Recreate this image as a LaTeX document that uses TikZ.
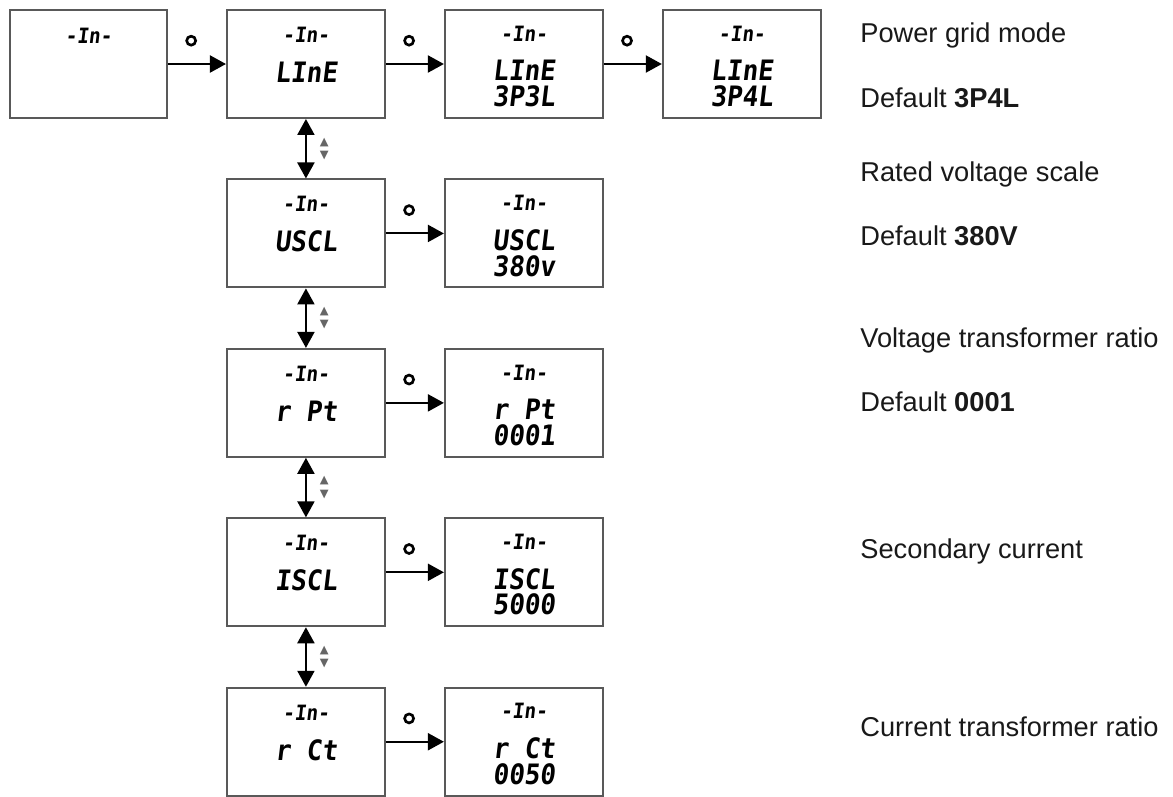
\documentclass[tikz,border=0pt]{standalone}
\usepackage{fontspec}
\setmainfont{Liberation Sans}
\newfontfamily\lcdfont[FakeSlant=0.12,FakeStretch=0.92]{DejaVu Sans Mono}
\newfontfamily\symfont{DejaVu Sans}
\usetikzlibrary{arrows.meta,positioning}

% three display rows of the meter
\newcommand{\lcd}[3]{{\fontsize{12}{16}\selectfont\rule{0pt}{16pt}#1\strut}\\[5pt] #2\strut\\[-3pt] #3\strut}

\begin{document}
\begin{tikzpicture}[
  node distance=1.19cm and 1.16cm,
  box/.style={draw=black!65, line width=1.1pt, minimum width=3.16cm, minimum height=2.16cm, align=center, inner sep=0pt, font=\lcdfont\bfseries\fontsize{16}{16}\selectfont},
  arr/.style={-{Triangle[length=3.2mm,width=3.4mm]}, line width=1.2pt},
  dbl/.style={{Triangle[length=3.2mm,width=3.4mm]}-{Triangle[length=3.2mm,width=3.4mm]}, line width=1.2pt},
  key/.style={circle, draw, line width=1.5pt, inner sep=0pt, minimum size=1.8mm},
  updn/.style={font=\symfont\fontsize{6.5}{7.5}\selectfont, text=black!60, align=center, inner sep=0pt},
  note/.style={anchor=base west, font=\fontsize{15.5}{18}\selectfont, text=black!90, inner sep=0pt}
]
  \useasboundingbox (0,0) rectangle (23.46,-15.92);

  \node[box, minimum width=3.14cm] (start) at (1.77,-1.28) {\lcd{-In-}{}{}};
  \node[box, right=of start] (line) {\lcd{-In-}{LInE}{}};
  \node[box, right=of line] (l3p3) {\lcd{-In-}{LInE}{3P3L}};
  \node[box, right=of l3p3] (l3p4) {\lcd{-In-}{LInE}{3P4L}};
  \node[box, below=of line] (uscl) {\lcd{-In-}{USCL}{}};
  \node[box, right=of uscl] (uval) {\lcd{-In-}{USCL}{380v}};
  \node[box, below=of uscl] (rpt) {\lcd{-In-}{r Pt}{}};
  \node[box, right=of rpt] (rval) {\lcd{-In-}{r Pt}{0001}};
  \node[box, below=of rpt] (iscl) {\lcd{-In-}{ISCL}{}};
  \node[box, right=of iscl] (ival) {\lcd{-In-}{ISCL}{5000}};
  \node[box, below=of iscl] (rct) {\lcd{-In-}{r Ct}{}};
  \node[box, right=of rct] (cval) {\lcd{-In-}{r Ct}{0050}};

  \draw[arr] (start) -- node[key, pos=0.4, above=3.5mm]{} (line);
  \draw[arr] (line) -- node[key, pos=0.4, above=3.5mm]{} (l3p3);
  \draw[arr] (l3p3) -- node[key, pos=0.4, above=3.5mm]{} (l3p4);
  \draw[arr] (uscl) -- node[key, pos=0.4, above=3.5mm]{} (uval);
  \draw[arr] (rpt) -- node[key, pos=0.4, above=3.5mm]{} (rval);
  \draw[arr] (iscl) -- node[key, pos=0.4, above=3.5mm]{} (ival);
  \draw[arr] (rct) -- node[key, pos=0.4, above=3.5mm]{} (cval);

  \draw[dbl] (line) -- node[updn, right=2.6mm]{▲\\▼} (uscl);
  \draw[dbl] (uscl) -- node[updn, right=2.6mm]{▲\\▼} (rpt);
  \draw[dbl] (rpt) -- node[updn, right=2.6mm]{▲\\▼} (iscl);
  \draw[dbl] (iscl) -- node[updn, right=2.6mm]{▲\\▼} (rct);

  \node[note] (mode) at (17.2,-0.85) {Power grid mode};
  \node[note] (modedef) at (17.2,-2.15) {Default \textbf{3P4L}};
  \node[note] (volt) at (17.2,-3.63) {Rated voltage scale};
  \node[note] (voltdef) at (17.2,-4.91) {Default \textbf{380V}};
  \node[note] (pt) at (17.2,-6.95) {Voltage transformer ratio};
  \node[note] (ptdef) at (17.2,-8.23) {Default \textbf{0001}};
  \node[note] (sec) at (17.2,-11.17) {Secondary current};
  \node[note] (ct) at (17.2,-14.73) {Current transformer ratio};
\end{tikzpicture}
\end{document}
